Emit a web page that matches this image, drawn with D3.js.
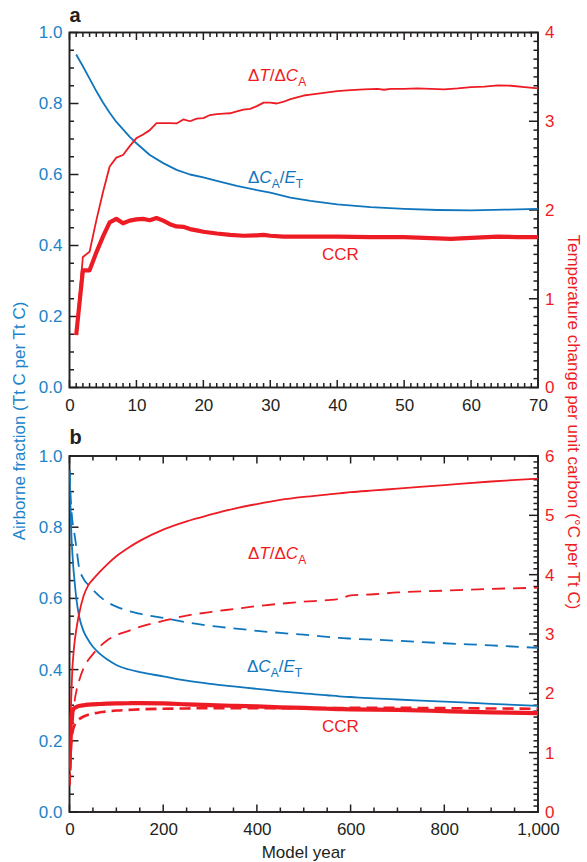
<!DOCTYPE html>
<html>
<head>
<meta charset="utf-8">
<script src="https://cdn.jsdelivr.net/npm/d3@7"></script>
<style>
body { margin: 0; background: #fff; }
svg text { font-family: "Liberation Sans", Arial, Helvetica, sans-serif; }
</style>
</head>
<body>
<svg id="chart"></svg>
<script>
// ---- panel a : first 70 model years ----
var aAfYears = [1, 2, 3, 4, 5, 6, 7, 8, 9, 10, 12, 14, 16, 18, 20, 22, 25, 28, 30, 33, 36, 40, 45, 50, 55, 60, 65, 70];
var aAf      = [0.938, 0.905, 0.87, 0.835, 0.803, 0.774, 0.748, 0.727, 0.706, 0.688, 0.655, 0.632, 0.613, 0.60, 0.592, 0.582, 0.568, 0.556, 0.549, 0.535, 0.526, 0.516, 0.508, 0.503, 0.5, 0.499, 0.501, 0.503];

var aDtYears = [1, 2, 3, 4, 5, 6, 7, 8, 9, 10, 11, 12, 13, 14, 15, 16, 17, 18, 19, 20, 21, 22, 23, 24, 25, 26, 27, 28, 29, 30, 31, 32, 33, 34, 35, 36, 38, 40, 42, 44, 46, 47, 48, 50, 52, 54, 56, 58, 60, 62, 64, 66, 68, 70];
var aDt      = [0.63, 1.47, 1.53, 1.88, 2.2, 2.49, 2.59, 2.62, 2.72, 2.81, 2.85, 2.9, 2.98, 2.98, 2.98, 2.975, 3.02, 3.0, 3.03, 3.035, 3.07, 3.08, 3.085, 3.09, 3.11, 3.13, 3.14, 3.17, 3.21, 3.21, 3.2, 3.22, 3.25, 3.27, 3.29, 3.3, 3.32, 3.34, 3.35, 3.36, 3.365, 3.355, 3.365, 3.365, 3.37, 3.365, 3.36, 3.37, 3.385, 3.39, 3.405, 3.4, 3.385, 3.37];

var aCcrYears = [1, 2, 3, 4, 5, 6, 7, 8, 9, 10, 11, 12, 13, 14, 15, 16, 17, 18, 19, 20, 22, 24, 26, 28, 29, 30, 32, 34, 36, 40, 45, 50, 55, 57, 60, 64, 67, 70];
var aCcr      = [0.59, 1.32, 1.32, 1.52, 1.7, 1.86, 1.9, 1.85, 1.88, 1.895, 1.9, 1.885, 1.91, 1.88, 1.84, 1.815, 1.81, 1.785, 1.77, 1.755, 1.735, 1.72, 1.71, 1.715, 1.72, 1.71, 1.7, 1.7, 1.7, 1.7, 1.695, 1.695, 1.68, 1.675, 1.685, 1.7, 1.695, 1.695];

// ---- panel b : 1,000 model years ----
var bYears     = [0, 1, 2, 3, 4, 6, 8, 10, 15, 20, 30, 40, 50, 65, 80, 100, 125, 150, 200, 250, 300, 350, 400, 450, 500, 550, 575, 600, 650, 700, 800, 900, 1000];
var bAfSolid   = [0.96, 0.9, 0.86, 0.82, 0.78, 0.73, 0.69, 0.66, 0.595, 0.553, 0.508, 0.483, 0.464, 0.444, 0.429, 0.413, 0.401, 0.393, 0.381, 0.369, 0.36, 0.353, 0.346, 0.339, 0.333, 0.328, 0.325, 0.323, 0.319, 0.316, 0.31, 0.304, 0.298];
var bAfDash    = [0.96, 0.93, 0.9, 0.87, 0.85, 0.82, 0.8, 0.785, 0.74, 0.69, 0.655, 0.638, 0.624, 0.605, 0.59, 0.577, 0.565, 0.557, 0.545, 0.533, 0.523, 0.516, 0.509, 0.503, 0.498, 0.492, 0.489, 0.487, 0.484, 0.481, 0.474, 0.468, 0.461];
var bDtSolid   = [0.7, 1.1, 1.45, 1.75, 2.0, 2.4, 2.62, 2.8, 3.1, 3.32, 3.64, 3.82, 3.92, 4.05, 4.17, 4.31, 4.45, 4.57, 4.76, 4.9, 5.01, 5.11, 5.19, 5.26, 5.31, 5.35, 5.37, 5.39, 5.42, 5.45, 5.51, 5.57, 5.62];
var bDtDash    = [0.45, 0.65, 0.85, 1.0, 1.15, 1.4, 1.6, 1.8, 2.05, 2.2, 2.42, 2.56, 2.66, 2.79, 2.89, 2.98, 3.05, 3.12, 3.22, 3.31, 3.37, 3.42, 3.47, 3.51, 3.545, 3.57, 3.59, 3.65, 3.67, 3.7, 3.73, 3.76, 3.78];
var bCcrSolid  = [0.7, 1.05, 1.35, 1.52, 1.62, 1.7, 1.73, 1.75, 1.77, 1.785, 1.8, 1.81, 1.815, 1.82, 1.825, 1.83, 1.833, 1.835, 1.83, 1.815, 1.8, 1.79, 1.78, 1.765, 1.755, 1.74, 1.735, 1.73, 1.725, 1.72, 1.7, 1.68, 1.665];
var bCcrDash   = [0.45, 0.7, 0.9, 1.05, 1.18, 1.32, 1.4, 1.45, 1.52, 1.56, 1.61, 1.64, 1.66, 1.68, 1.695, 1.71, 1.72, 1.73, 1.74, 1.745, 1.75, 1.75, 1.75, 1.75, 1.75, 1.75, 1.75, 1.755, 1.755, 1.755, 1.75, 1.745, 1.74];

// ---- tick labels ----
var aXTicks = [0, 10, 20, 30, 40, 50, 60, 70];
var bXTicks = [0, 200, 400, 600, 800, 1000];
var leftTicks = [0, 0.2, 0.4, 0.6, 0.8, 1.0];
var aRightTicks = [0, 1, 2, 3, 4];
var bRightTicks = [0, 1, 2, 3, 4, 5, 6];

var RED = "#ed1c24", BLUE = "#0f75bd", BLUE_TEXT = "#1a83c9", INK = "#231f20";

var svgWidth = 587, svgHeight = 862;
var plotLeft = 69.5, plotRight = 538;

var svg = d3.select("#chart")
    .attr("width", svgWidth)
    .attr("height", svgHeight);

function zip(xs, ys) {
    return xs.map(function(d, i) { return { x: d, y: ys[i] }; });
}

/**
 * Draws one panel with its frame, inward ticks and labels
 */
function drawPanel(cfg) {
    var x = d3.scaleLinear().domain(cfg.xDomain).range([plotLeft, plotRight]);
    var yL = d3.scaleLinear().domain([0, 1]).range([cfg.bottom, cfg.top]);
    var yR = d3.scaleLinear().domain([0, cfg.rMax]).range([cfg.bottom, cfg.top]);
    var g = svg.append("g");

    // tick labels from d3 axes (tick lines drawn separately, pointing inward)
    function labels(gen, transform, values, fmt, pad, color) {
        var a = g.append("g")
            .attr("transform", transform)
            .call(gen.tickValues(values).tickSize(0).tickPadding(pad).tickFormat(fmt));
        a.select(".domain").remove();
        a.selectAll("line").remove();
        a.selectAll("text").attr("fill", color).attr("font-size", 17).attr("font-family", null);
    }
    labels(d3.axisBottom(x), "translate(0," + cfg.bottom + ")", cfg.xTicks, cfg.xFormat, 11, INK);
    labels(d3.axisLeft(yL), "translate(" + plotLeft + ",0)", leftTicks, d3.format(".1f"), 7, BLUE_TEXT);
    labels(d3.axisRight(yR), "translate(" + plotRight + ",0)", cfg.rTicks, d3.format("d"), 7, RED);

    var ticks = g.append("g").attr("stroke", INK).attr("stroke-width", 1.5);
    function isMajor(v, list) {
        return list.some(function(t) { return Math.abs(t - v) < 1e-6; });
    }
    var xMinor = d3.range(cfg.xDomain[0], cfg.xDomain[1] + 0.001, cfg.xMinor);
    var lMinor = d3.range(0, 1.0001, 0.05);
    var rMinor = d3.range(0, cfg.rMax + 0.0001, 0.1);

    [cfg.bottom, cfg.top].forEach(function(edge) {
        var dir = edge === cfg.bottom ? -1 : 1;
        ticks.selectAll(null).data(xMinor).enter().append("line")
            .attr("x1", function(d) { return x(d); })
            .attr("x2", function(d) { return x(d); })
            .attr("y1", edge)
            .attr("y2", function(d) { return edge + dir * (isMajor(d, cfg.xTicks) ? 7.5 : 4.5); });
    });
    ticks.selectAll(null).data(lMinor).enter().append("line")
        .attr("x1", plotLeft)
        .attr("x2", function(d) { return plotLeft + (isMajor(d, leftTicks) ? 9 : 4.5); })
        .attr("y1", function(d) { return yL(d); })
        .attr("y2", function(d) { return yL(d); });
    ticks.selectAll(null).data(rMinor).enter().append("line")
        .attr("x1", plotRight)
        .attr("x2", function(d) { return plotRight - (isMajor(d, cfg.rTicks) ? 9 : 4.5); })
        .attr("y1", function(d) { return yR(d); })
        .attr("y2", function(d) { return yR(d); });

    g.append("rect")
        .attr("x", plotLeft).attr("y", cfg.top)
        .attr("width", plotRight - plotLeft).attr("height", cfg.bottom - cfg.top)
        .attr("fill", "none").attr("stroke", INK).attr("stroke-width", 1.9);

    var clipId = "clip" + cfg.name;
    svg.append("clipPath").attr("id", clipId).append("rect")
        .attr("x", plotLeft).attr("y", cfg.top - 4)
        .attr("width", plotRight - plotLeft).attr("height", cfg.bottom - cfg.top + 8);

    var lines = g.append("g").attr("clip-path", "url(#" + clipId + ")");
    cfg.series.forEach(function(s) {
        var yy = s.axis === "left" ? yL : yR;
        var line = d3.line()
            .curve(cfg.curve)
            .x(function(d) { return x(d.x); })
            .y(function(d) { return yy(d.y); });
        lines.append("path")
            .datum(s.data)
            .attr("fill", "none")
            .attr("stroke", s.color)
            .attr("stroke-width", s.width)
            .attr("stroke-dasharray", s.dash || null)
            .attr("stroke-linejoin", "round")
            .attr("d", line);
    });

    g.append("text")
        .attr("x", plotLeft).attr("y", cfg.letterY)
        .attr("font-size", 20).attr("font-weight", "bold").attr("fill", INK)
        .text(cfg.name);

    cfg.labels.forEach(function(l) {
        var t = g.append("text")
            .attr("x", l.x).attr("y", l.y)
            .attr("font-size", 17).attr("fill", l.color);
        l.parts.forEach(function(p) {
            var ts = t.append("tspan").text(p.t);
            if (p.i) ts.attr("font-style", "italic");
            if (p.sub) ts.attr("font-size", 12).attr("dy", 5);
            if (p.up) ts.attr("dy", -5);
        });
    });
}

var dtLabel = [{ t: "\u0394" }, { t: "T", i: true }, { t: "/\u0394" }, { t: "C", i: true }, { t: "A", sub: true }];
var afLabel = [{ t: "\u0394" }, { t: "C", i: true }, { t: "A", sub: true }, { t: "/", up: true }, { t: "E", i: true }, { t: "T", sub: true }];

drawPanel({
    name: "a", top: 32.5, bottom: 387.5, letterY: 22,
    xDomain: [0, 70], xTicks: aXTicks, xMinor: 1, xFormat: d3.format("d"),
    rMax: 4, rTicks: aRightTicks, curve: d3.curveLinear,
    series: [
        { data: zip(aAfYears, aAf), axis: "left", color: BLUE, width: 1.8 },
        { data: zip(aDtYears, aDt), axis: "right", color: RED, width: 1.8 },
        { data: zip(aCcrYears, aCcr), axis: "right", color: RED, width: 4.2 }
    ],
    labels: [
        { x: 248, y: 81, color: RED, parts: dtLabel },
        { x: 248, y: 183, color: BLUE, parts: afLabel },
        { x: 322, y: 260, color: RED, parts: [{ t: "CCR" }] }
    ]
});

drawPanel({
    name: "b", top: 456, bottom: 812, letterY: 444,
    xDomain: [0, 1000], xTicks: bXTicks, xMinor: 50, xFormat: d3.format(","),
    rMax: 6, rTicks: bRightTicks, curve: d3.curveMonotoneX,
    series: [
        { data: zip(bYears, bAfDash), axis: "left", color: BLUE, width: 1.8, dash: "13,8" },
        { data: zip(bYears, bAfSolid), axis: "left", color: BLUE, width: 1.8 },
        { data: zip(bYears, bDtDash), axis: "right", color: RED, width: 1.8, dash: "13,8" },
        { data: zip(bYears, bDtSolid), axis: "right", color: RED, width: 1.8 },
        { data: zip(bYears, bCcrDash), axis: "right", color: RED, width: 2.6, dash: "11,6" },
        { data: zip(bYears, bCcrSolid), axis: "right", color: RED, width: 4.2 }
    ],
    labels: [
        { x: 248, y: 559, color: RED, parts: dtLabel },
        { x: 247, y: 672, color: BLUE, parts: afLabel },
        { x: 322, y: 732, color: RED, parts: [{ t: "CCR" }] }
    ]
});

// shared axis titles
svg.append("text")
    .attr("transform", "translate(25,421) rotate(-90)")
    .attr("text-anchor", "middle")
    .attr("font-size", 17)
    .attr("fill", BLUE_TEXT)
    .text("Airborne fraction (Tt C per Tt C)");

svg.append("text")
    .attr("transform", "translate(568,422) rotate(90)")
    .attr("text-anchor", "middle")
    .attr("font-size", 17)
    .attr("fill", RED)
    .text("Temperature change per unit carbon (\u00b0C per Tt C)");

svg.append("text")
    .attr("x", (plotLeft + plotRight) / 2)
    .attr("y", 858)
    .attr("text-anchor", "middle")
    .attr("font-size", 17)
    .attr("fill", INK)
    .text("Model year");
</script>
</body>
</html>
